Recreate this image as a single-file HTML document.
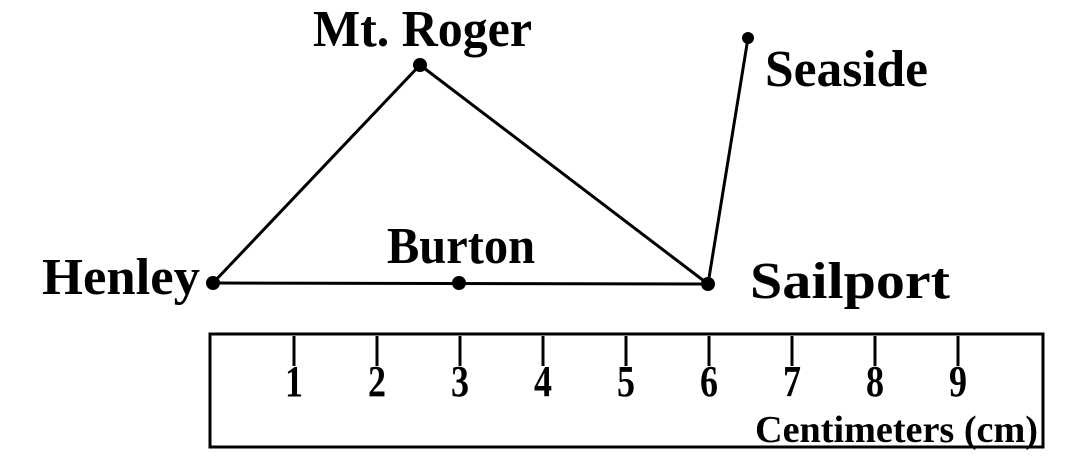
<!DOCTYPE html>
<html><head><style>
body{margin:0;background:#fff;}
svg{display:block}
text{font-family:"Liberation Serif",serif;font-weight:bold;fill:#000}
</style></head><body>
<svg width="1068" height="468" viewBox="0 0 1068 468">
<g stroke="#000" stroke-width="3" fill="none">
<line x1="213" y1="283" x2="420" y2="65"/>
<line x1="420" y1="65" x2="708" y2="284"/>
<line x1="213" y1="283" x2="708" y2="284"/>
<line x1="708" y1="284" x2="748" y2="38"/>
<rect x="210" y="334" width="833" height="113" stroke-width="3"/>
<line x1="294" y1="336" x2="294" y2="366"/>
<line x1="377" y1="336" x2="377" y2="366"/>
<line x1="460" y1="336" x2="460" y2="366"/>
<line x1="543" y1="336" x2="543" y2="366"/>
<line x1="626" y1="336" x2="626" y2="366"/>
<line x1="709" y1="336" x2="709" y2="366"/>
<line x1="792" y1="336" x2="792" y2="366"/>
<line x1="875" y1="336" x2="875" y2="366"/>
<line x1="958" y1="336" x2="958" y2="366"/>
</g>
<g fill="#000">
<circle cx="420" cy="65" r="7"/>
<circle cx="748" cy="38" r="6"/>
<circle cx="213" cy="283" r="7"/>
<circle cx="459" cy="283" r="7"/>
<circle cx="708" cy="284" r="7"/>
</g>
<text x="313" y="46" font-size="52" textLength="219" lengthAdjust="spacingAndGlyphs">Mt. Roger</text>
<text x="765" y="86" font-size="52" textLength="163" lengthAdjust="spacingAndGlyphs">Seaside</text>
<text x="42" y="294" font-size="52" textLength="158" lengthAdjust="spacingAndGlyphs">Henley</text>
<text x="387" y="263" font-size="52" textLength="148" lengthAdjust="spacingAndGlyphs">Burton</text>
<text x="750" y="298" font-size="52" textLength="200" lengthAdjust="spacingAndGlyphs">Sailport</text>
<g font-size="44">
<text x="285" y="396" textLength="18" lengthAdjust="spacingAndGlyphs">1</text>
<text x="368" y="396" textLength="18" lengthAdjust="spacingAndGlyphs">2</text>
<text x="451" y="396" textLength="18" lengthAdjust="spacingAndGlyphs">3</text>
<text x="534" y="396" textLength="18" lengthAdjust="spacingAndGlyphs">4</text>
<text x="617" y="396" textLength="18" lengthAdjust="spacingAndGlyphs">5</text>
<text x="700" y="396" textLength="18" lengthAdjust="spacingAndGlyphs">6</text>
<text x="783" y="396" textLength="18" lengthAdjust="spacingAndGlyphs">7</text>
<text x="866" y="396" textLength="18" lengthAdjust="spacingAndGlyphs">8</text>
<text x="949" y="396" textLength="18" lengthAdjust="spacingAndGlyphs">9</text>
</g>
<text x="755" y="442" font-size="38" textLength="283" lengthAdjust="spacingAndGlyphs">Centimeters (cm)</text>
</svg>
</body></html>
